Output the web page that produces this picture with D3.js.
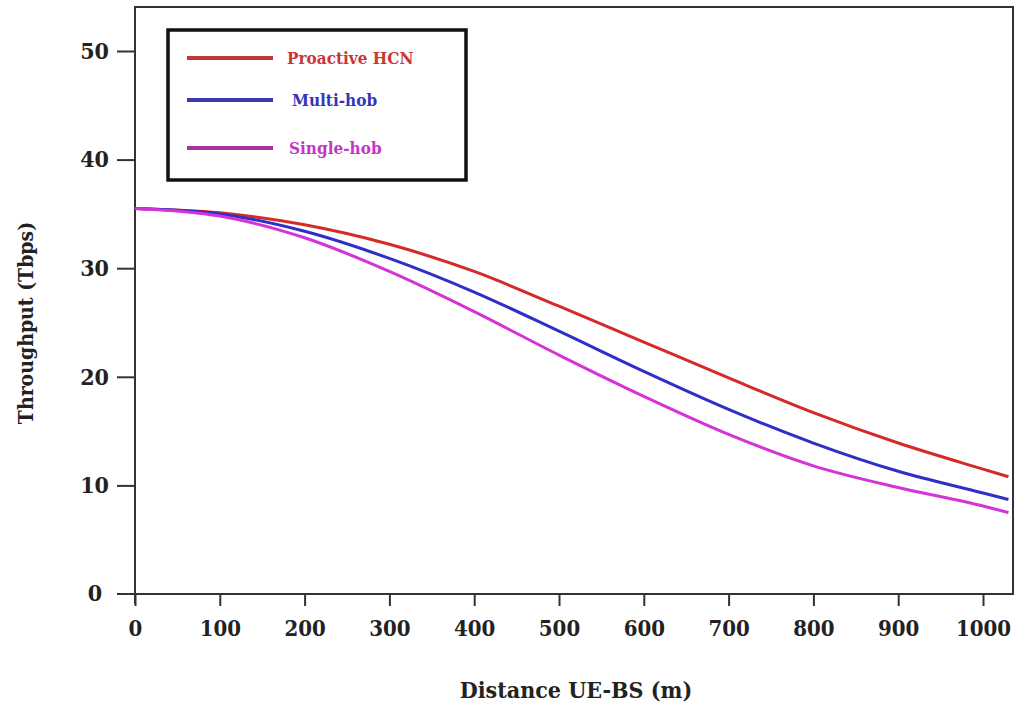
<!DOCTYPE html>
<html>
<head>
<meta charset="utf-8">
<script src="https://cdn.jsdelivr.net/npm/d3@7"></script>
<style>
  body { margin: 0; background: #fff; }
</style>
</head>
<body>
<div id="chart"></div>
<script>
(function() {

// values
const distance = [0, 100, 200, 300, 400, 500, 600, 700, 800, 900, 1000, 1030];
const proactive = [35.5, 35.1, 34.0, 32.2, 29.7, 26.5, 23.2, 19.9, 16.7, 13.9, 11.5, 10.8];
const multiHob = [35.5, 35.0, 33.4, 30.9, 27.8, 24.2, 20.5, 17.0, 13.9, 11.3, 9.3, 8.7];
const singleHob = [35.5, 34.8, 32.8, 29.7, 26.0, 22.0, 18.2, 14.7, 11.8, 9.8, 8.1, 7.5];

const xTicks = [0, 100, 200, 300, 400, 500, 600, 700, 800, 900, 1000];
const yTicks = [0, 10, 20, 30, 40, 50];

const seriesNames = ["Proactive HCN", "Multi-hob", "Single-hob"];
const lineColors = ["#d42a2a", "#2e2ec8", "#d433d8"];
const keyColors = ["#c33535", "#3a3ab0", "#a8339f"];
const textColors = ["#cc3535", "#3535b8", "#c535c5"];

const FONT = "DejaVu Serif, Liberation Serif, serif";
const FONT_C = "DejaVu Serif Condensed, DejaVu Serif, serif";
const width = 1017, height = 713;

const svg = d3.select("#chart").append("svg")
	.attr("width", width)
	.attr("height", height)
	.style("font-family", FONT)
	.attr("font-weight", "bold");

const x = d3.scaleLinear().domain([0, 1000]).range([135, 983]);
const y = d3.scaleLinear().domain([0, 50]).range([594, 51]);

// frame
svg.append("rect")
	.attr("x", 135).attr("y", 7)
	.attr("width", 1013 - 135).attr("height", 594 - 7)
	.attr("fill", "none")
	.attr("stroke", "#333")
	.attr("stroke-width", 2);

const xAxis = svg.append("g")
	.attr("transform", "translate(0,594)")
	.call(d3.axisBottom(x).tickValues(xTicks).tickFormat(d3.format("d"))
		.tickSize(12).tickPadding(14).tickSizeOuter(0));
xAxis.select(".domain").remove();
xAxis.selectAll("line").attr("stroke", "#333").attr("stroke-width", 2);
xAxis.selectAll("text")
	.style("font-family", FONT_C).attr("font-size", 22).attr("fill", "#222");
// little overhang to the left of the origin
svg.append("line").attr("x1", 117).attr("x2", 135).attr("y1", 594).attr("y2", 594)
	.attr("stroke", "#333").attr("stroke-width", 2);
svg.append("line").attr("x1", 135).attr("x2", 135).attr("y1", 594).attr("y2", 604)
	.attr("stroke", "#333").attr("stroke-width", 2);

const yAxis = svg.append("g")
	.attr("transform", "translate(135,0)")
	.call(d3.axisLeft(y).tickValues(yTicks.filter(d => d > 0))
		.tickSize(18).tickPadding(8).tickSizeOuter(0));
yAxis.select(".domain").remove();
yAxis.selectAll("line").attr("stroke", "#333").attr("stroke-width", 2);
yAxis.selectAll("text")
	.style("font-family", FONT_C).attr("font-size", 23).attr("fill", "#222");
svg.append("text")
	.attr("x", 95).attr("y", y(0))
	.attr("dy", "0.32em")
	.attr("text-anchor", "middle")
	.style("font-family", FONT_C)
	.attr("font-size", 23).attr("fill", "#222")
	.text("0");

// axis titles
svg.append("text")
	.attr("x", 576).attr("y", 698)
	.attr("text-anchor", "middle")
	.style("font-family", FONT_C)
	.attr("font-size", 23).attr("fill", "#222")
	.text("Distance UE-BS (m)");

svg.append("text")
	.attr("transform", "translate(33,323) rotate(-90)")
	.attr("text-anchor", "middle")
	.style("font-family", FONT_C)
	.attr("font-size", 21).attr("fill", "#222")
	.text("Throughput (Tbps)");

// curves
const line = d3.line()
	.x(function(d) { return x(d[0]); })
	.y(function(d) { return y(d[1]); })
	.curve(d3.curveMonotoneX);

[proactive, multiHob, singleHob].forEach(function(vals, i) {
	svg.append("path")
		.datum(distance.map(function(d, j) { return [d, vals[j]]; }))
		.attr("d", line)
		.attr("fill", "none")
		.attr("stroke", lineColors[i])
		.attr("stroke-width", 3);
});

// legend
svg.append("rect")
	.attr("x", 168).attr("y", 30)
	.attr("width", 298).attr("height", 150)
	.attr("fill", "#fff")
	.attr("stroke", "#111")
	.attr("stroke-width", 3.5);

const keyY = [58, 100, 148];
const keyTextX = [287, 292, 289];
seriesNames.forEach(function(name, i) {
	svg.append("line")
		.attr("x1", 187).attr("x2", 273)
		.attr("y1", keyY[i]).attr("y2", keyY[i])
		.attr("stroke", keyColors[i])
		.attr("stroke-width", 4);
	svg.append("text")
		.attr("x", keyTextX[i]).attr("y", keyY[i])
		.attr("dy", "0.35em")
		.style("font-family", FONT_C)
		.attr("font-size", 17)
		.attr("fill", textColors[i])
		.text(name);
});

})();
</script>
</body>
</html>
